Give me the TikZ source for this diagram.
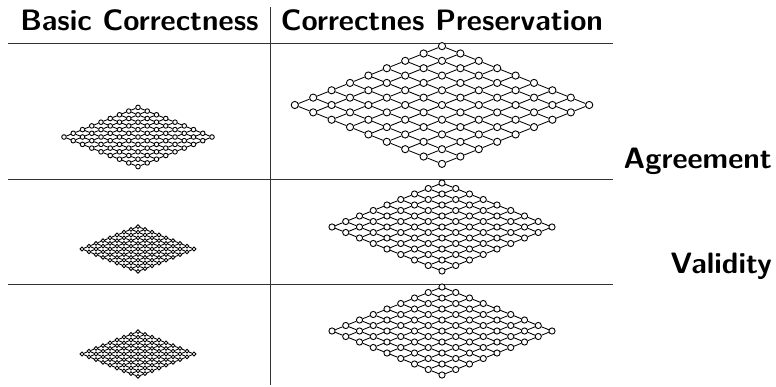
\documentclass[tikz,border=0pt]{standalone}
\tikzset{
  latnode/.style={circle, draw, fill=white, inner sep=0pt, line width=0.9pt},
  latedge/.style={line width=0.85pt},
  rule/.style={line width=0.9pt, draw=black!80},
  headlabel/.style={font=\sffamily\bfseries\fontsize{29.5}{34}\selectfont, inner sep=0pt},
}
% A 9x9 grid lattice drawn as a flat diamond.
% #1 name prefix, #2 centre x, #3 centre y, #4 half-step, #5 node diameter
\newcommand\drawlattice[5]{%
  \foreach \i in {0,...,8}{%
    \foreach \j in {0,...,8}{%
      \node[latnode, minimum size=#5pt] (#1-\i-\j)
        at ({#2+(\i+\j-8)*#4},{#3+(\j-\i)*0.4*#4}) {};
    }%
  }%
  \foreach \i in {0,...,8}{%
    \foreach \j in {0,...,7}{%
      \pgfmathtruncatemacro\k{\j+1}%
      \draw[latedge] (#1-\i-\j) -- (#1-\i-\k);
      \draw[latedge] (#1-\j-\i) -- (#1-\k-\i);
    }%
  }%
}
\begin{document}
\begin{tikzpicture}[x=1pt, y=-1pt]
  \useasboundingbox (0,0) rectangle (776,386);

  % table rules
  \coordinate (vtop) at (270,7);
  \coordinate (vbot) at (270,385);
  \draw[rule] (vtop) -- (vbot);
  \foreach \y/\n in {43/a, 179/b, 284/c}{
    \coordinate (hl-\n) at (8,\y);
    \coordinate (hr-\n) at (613,\y);
    \draw[rule] (hl-\n) -- (hr-\n);
  }

  % column and row headings
  \node[headlabel, anchor=base] (hbasic) at (139.5,30) {Basic Correctness};
  \node[headlabel, anchor=base] (hpres) at (442,30) {Correctnes Preservation};
  \node[headlabel, anchor=base east] (ragree) at (772,168) {Agreement};
  \node[headlabel, anchor=base east] (rvalid) at (772,273) {Validity};

  % lattices
  \drawlattice{tl}{138}{137}{9.25}{4.6}
  \drawlattice{tr}{442}{105}{18.4}{7.2}
  \drawlattice{ml}{138}{249}{7}{3.8}
  \drawlattice{mr}{442}{227}{13.75}{6.2}
  \drawlattice{bl}{138}{354}{7}{3.8}
  \drawlattice{br}{442}{331}{13.75}{6.2}
\end{tikzpicture}
\end{document}
